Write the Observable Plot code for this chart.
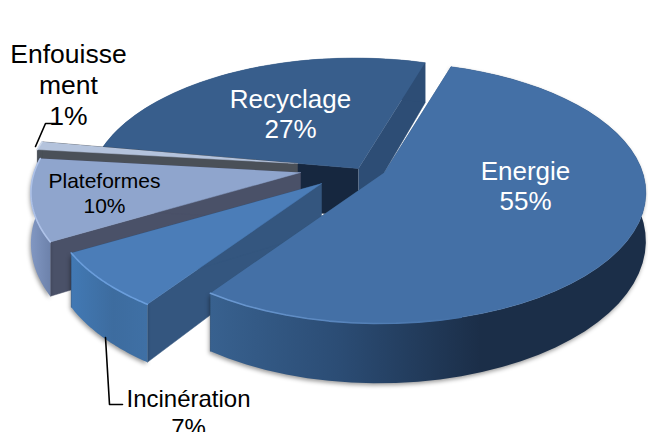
<!DOCTYPE html>
<html>
<head>
<meta charset="utf-8">
<script src="https://cdn.jsdelivr.net/npm/d3@7"></script>
<script src="https://cdn.jsdelivr.net/npm/@observablehq/plot@0.6"></script>
<style>
  html, body { margin: 0; padding: 0; background: #fff; overflow: hidden; }
  svg { display: block; }
</style>
</head>
<body>
<script>
// Shares of waste treatment, in clockwise order from the top of the pie
const categories = ["Energie", "Incinération", "Plateformes", "Enfouissement", "Recyclage"];
const shares = [55, 7, 10, 1, 27];
const captions = ["Energie\n55%", "Incinération\n7%", "Plateformes\n10%", "Enfouisse\nment\n1%", "Recyclage\n27%"];

// Perspective view of the disc
const view = {startDeg: 22.5, rx: 261, ry: 127, shear: 25, roll: 12, farK: 0.153, sideK: 0.03, depth: 48};

// Where each exploded slice has its point
const hubs = {
  "Energie": [384, 172], "Incinération": [321, 183], "Plateformes": [300, 172],
  "Enfouissement": [297, 163], "Recyclage": [358, 168]
};

const looks = {
  "Energie": {top: "#4470a6", fromWall: "#34587f", toWall: "#34587f", wall: "url(#wall-energie)", rim: "url(#rim-energie)", shadow: true},
  "Incinération": {top: "#4b7db8", fromWall: "#34567f", toWall: "#34567f", wall: "url(#wall-incineration)", rim: "#6a9ddb", shadow: true},
  "Plateformes": {top: "#8fa5cd", fromWall: "#4a5168", toWall: "#4a5168", wall: "url(#wall-plateformes)", rim: "#aec2e8", shadow: true},
  "Enfouissement": {top: "#b4c3dc", fromWall: "#4a5058", toWall: "#4a5058", wall: "#4a5058", rim: "#cdd8ea", shadow: false},
  "Recyclage": {top: "#385e8c", fromWall: "#16273f", toWall: "#2d4d75", wall: "#2d4d75", rim: null, shadow: false}
};

const labelSpots = [
  {i: 0, x: 525, y: 185, size: 26, fill: "white"},
  {i: 4, x: 290, y: 113, size: 26, fill: "white"},
  {i: 2, x: 104, y: 192, size: 21, fill: "black"},
  {i: 3, x: 68, y: 84, size: 26.5, fill: "black"},
  {i: 1, x: 188, y: 412, size: 24, fill: "black"}
];

const leaders = [
  [{x: 35, y: 146}, {x: 45, y: 123}, {x: 57, y: 123}],
  [{x: 105, y: 337}, {x: 109, y: 404}, {x: 122, y: 404}]
];

// Project a point of the unit disc, relative to a slice's hub
function project(hub, deg, r = 1) {
  const a = deg * Math.PI / 180, X = r * Math.sin(a), Y = r * Math.cos(a);
  const d = 1 + view.farK * Y + view.sideK * X;
  return {
    x: hub[0] + (view.rx * X - view.shear * Y) / d,
    y: hub[1] - (view.ry * Y + view.roll * X) / d,
    drop: view.depth / Math.pow(d, 1.3)
  };
}

const arc = (hub, from, to) => d3.range(0, 1.0001, 1 / 48).map(t => project(hub, from + (to - from) * t));
const lowered = p => ({x: p.x, y: p.y + p.drop});

function radialWall(hub, deg) {
  const tip = project(hub, deg, 0), edge = project(hub, deg);
  return [tip, edge, lowered(edge), lowered(tip)];
}

const total = d3.sum(shares);
let running = view.startDeg;
const slices = categories.map((name, i) => {
  const from = running, to = running + shares[i] / total * 360;
  running = to;
  return {name, from, to, hub: hubs[name], look: looks[name]};
});

// Back to front
const paintOrder = ["Recyclage", "Enfouissement", "Plateformes", "Incinération", "Energie"];
const outline = {x: "x", y: "y"};

const sliceMarks = paintOrder.flatMap(name => {
  const s = slices.find(d => d.name === name);
  const rimPts = arc(s.hub, s.from, s.to);
  const shell = [...rimPts, ...rimPts.map(lowered).reverse()];
  const top = [project(s.hub, s.from, 0), ...rimPts];
  // The lit edge only shows along the part of the rim that faces the viewer
  const litPts = rimPts.filter(p => name === "Energie" ? p.x < 470 && p.y > 230 : true);
  return [
    Plot.line(radialWall(s.hub, s.from), {...outline, fill: s.look.fromWall, stroke: s.look.fromWall, strokeWidth: 0.5, strokeLinejoin: "round"}),
    Plot.line(radialWall(s.hub, s.to), {...outline, fill: s.look.toWall, stroke: s.look.toWall, strokeWidth: 0.5, strokeLinejoin: "round"}),
    Plot.line(shell, {...outline, fill: s.look.wall, stroke: "none",
      ...(s.look.shadow ? {imageFilter: "drop-shadow(-1px 2px 2px rgba(0,0,0,.4))"} : {})}),
    Plot.line(top, {...outline, fill: s.look.top, stroke: s.look.top, strokeWidth: 0.5, strokeLinejoin: "round"}),
    ...(s.look.rim ? [Plot.line(litPts, {...outline, stroke: s.look.rim, strokeWidth: 1.6, imageFilter: "blur(0.7px)"})] : [])
  ];
});

// Side wall shading runs left to right
function gradients() {
  const defs = d3.create("svg:defs");
  const add = (id, stops) => {
    const g = defs.append("linearGradient").attr("id", id);
    stops.forEach(([o, c]) => g.append("stop").attr("offset", o).attr("stop-color", c));
  };
  add("wall-energie", [[0, "#38618f"], [0.3, "#2b4c74"], [0.62, "#1b2e48"], [1, "#1b2e48"]]);
  add("rim-energie", [[0, "#6d9bd4"], [1, "#4470a6"]]);
  add("wall-incineration", [[0, "#4279b4"], [0.55, "#3d6c9f"], [1, "#3f70a5"]]);
  add("wall-plateformes", [[0, "#8197c2"], [1, "#6d82ab"]]);
  return defs.node();
}

const chart = Plot.plot({
  width: 648,
  height: 432,
  margin: 0,
  x: {domain: [0, 648], range: [0, 648], axis: null},
  y: {domain: [0, 432], range: [0, 432], axis: null},
  marks: [
    gradients,
    ...sliceMarks,
    ...leaders.map(pts => Plot.line(pts, {x: "x", y: "y", stroke: "black", strokeWidth: 1.6})),
    ...labelSpots.map(l => Plot.text([captions[l.i]], {
      x: () => l.x, y: () => l.y, text: d => d, fontSize: l.size, fill: l.fill,
      lineHeight: 1.17, fontFamily: "Liberation Sans"
    }))
  ]
});
document.body.appendChild(chart);
</script>
</body>
</html>
